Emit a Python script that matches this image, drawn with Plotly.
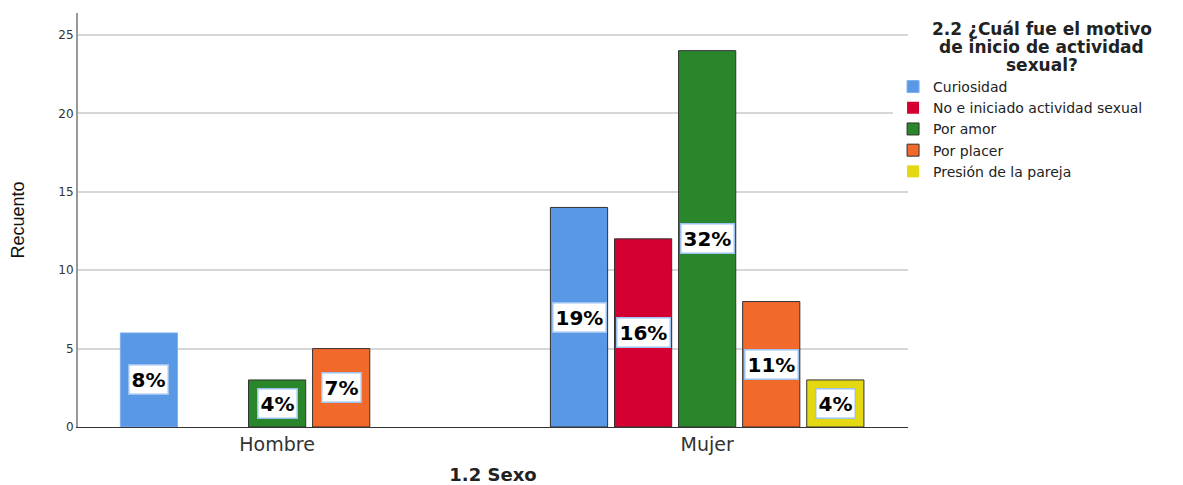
import plotly.graph_objects as go

groups = ["Hombre", "Mujer"]
series = ["Curiosidad", "No e iniciado actividad sexual", "Por amor", "Por placer", "Presión de la pareja"]
values = {
    "Curiosidad": [6, 14],
    "No e iniciado actividad sexual": [0, 12],
    "Por amor": [3, 24],
    "Por placer": [5, 8],
    "Presión de la pareja": [0, 3],
}
colors = ["#5898e4", "#d50032", "#2a862a", "#f2692c", "#e4d813"]
y_ticks = [0, 5, 10, 15, 20, 25]
legend_title_lines = ["2.2 ¿Cuál fue el motivo", "de inicio de actividad", "sexual?"]

total = sum(sum(v) for v in values.values())
pitch = 0.149
width = 0.133

fig = go.Figure()
annotations = []
for si, name in enumerate(series):
    xs = [gi + (si - 2) * pitch for gi in range(len(groups))]
    vals = values[name]
    line_colors = ["#333333" if not (si == 0 and gi == 0) else "#7fb0ee" for gi in range(len(groups))]
    line_widths = [1 if v > 0 else 0 for v in vals]
    fig.add_trace(go.Bar(
        x=xs, y=vals, name=name, width=width,
        marker=dict(color=colors[si], line=dict(color=line_colors, width=line_widths)),
    ))
    for x, v in zip(xs, vals):
        if v > 0:
            annotations.append(dict(
                x=x, y=v / 2, xref="x", yref="y", text=f"{round(100 * v / total)}%",
                showarrow=False, bgcolor="white", bordercolor="#9cc2f2", borderwidth=1.5,
                borderpad=2, font=dict(family="DejaVu Sans", size=20, color="black", weight="bold"),
            ))

for i, line in enumerate(legend_title_lines):
    annotations.append(dict(
        x=1.1614, y=0.962 - i * 0.0435, xref="paper", yref="paper", text=f"<b>{line}</b>",
        showarrow=False, xanchor="center", yanchor="middle",
        font=dict(family="DejaVu Sans", size=17, color="#222"),
    ))

fig.update_layout(
    width=1175, height=477,
    margin=dict(l=70, r=275, t=5, b=58),
    plot_bgcolor="white", paper_bgcolor="white",
    barmode="overlay",
    showlegend=True,
    annotations=annotations,
    legend=dict(
        x=0.982, xanchor="left", y=0.86, yanchor="top",
        font=dict(family="DejaVu Sans", size=14, color="#222"),
        itemwidth=30, tracegroupgap=0,
    ),
    xaxis=dict(
        range=[-0.463, 1.467], tickvals=[0, 1], ticktext=groups, showgrid=False,
        showline=True, linecolor="#333", linewidth=1, ticks="", automargin=False,
        tickfont=dict(family="DejaVu Sans", size=19, color="#333"),
        title=dict(text="<b>1.2 Sexo</b>", font=dict(family="DejaVu Sans", size=18, color="#222"), standoff=18),
        zeroline=False,
    ),
    yaxis=dict(
        range=[0, 26.4], tickvals=y_ticks, showgrid=True, gridcolor="#d6d6d6", gridwidth=1.5,
        showline=True, linecolor="#999", linewidth=2, ticks="", zeroline=False, automargin=False,
        tickfont=dict(family="DejaVu Sans", size=12, color="#333"),
        title=dict(text="Recuento", font=dict(family="Liberation Sans Narrow, Liberation Sans", size=18, color="#111"), standoff=32),
    ),
)

fig.write_html("out.html")
